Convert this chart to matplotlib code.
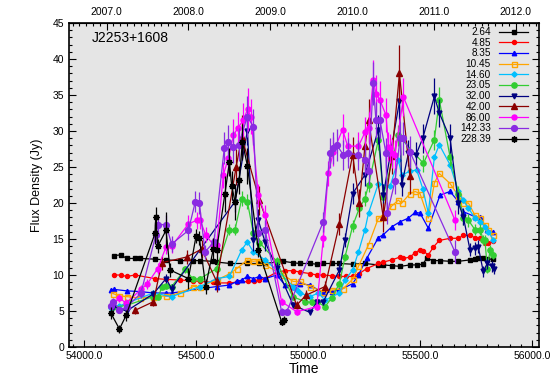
import matplotlib
matplotlib.use("Agg")
import matplotlib.pyplot as plt
from matplotlib.ticker import MultipleLocator, FormatStrFormatter

plt.rcParams["font.family"] = ["Liberation Sans", "DejaVu Sans"]

# 2.64 GHz
mjd_264 = [54135, 54165, 54190, 54228, 54250, 54317, 54366, 54429, 54488, 54518, 54577, 54592,
           54652, 54729, 54783, 54808, 54860, 54890, 54934, 54964, 55009, 55039, 55068, 55105,
           55140, 55199, 55254, 55314, 55336, 55374, 55411, 55455, 55485, 55512, 55530, 55560,
           55589, 55634, 55671, 55723, 55745, 55760, 55782, 55800, 55827]
flux_264 = [12.7, 12.8, 12.3, 12.3, 12.3, 12.2, 12.1, 12.0, 12.0, 12.0, 11.9, 11.8,
            11.6, 11.6, 11.6, 11.6, 11.8, 11.9, 11.7, 11.6, 11.6, 11.5, 11.6, 11.6,
            11.6, 11.5, 11.6, 11.4, 11.4, 11.3, 11.2, 11.4, 11.4, 11.5, 12.3, 12.0,
            12.0, 11.9, 11.9, 12.1, 12.2, 12.3, 12.3, 12.2, 12.2]

# 4.85 GHz
mjd_485 = [54135, 54165, 54190, 54228, 54317, 54366, 54429, 54488, 54518, 54577, 54592, 54649,
           54682, 54734, 54760, 54783, 54808, 54860, 54897, 54934, 54964, 55009, 55039, 55068,
           55105, 55140, 55170, 55199, 55229, 55262, 55314, 55336, 55374, 55411, 55426, 55455,
           55478, 55500, 55515, 55537, 55560, 55586, 55634, 55671, 55692, 55723, 55745, 55768,
           55790, 55804, 55826]
flux_485 = [10.0, 10.0, 9.8, 10.0, 9.5, 9.4, 9.3, 9.2, 9.1, 9.0, 8.9, 8.9,
            9.0, 9.1, 9.2, 9.3, 9.5, 10.4, 10.6, 10.6, 10.4, 10.2, 10.0, 10.0,
            9.9, 9.8, 9.8, 9.8, 10.2, 10.9, 11.6, 11.8, 12.1, 12.5, 12.3, 12.5,
            13.1, 13.5, 13.3, 12.8, 13.9, 14.8, 15.1, 15.1, 15.5, 15.5, 15.2, 15.2,
            14.4, 14.4, 14.7]

# 8.35 GHz
mjd_835 = [54120, 54135, 54190, 54250, 54310, 54366, 54391, 54592, 54649, 54682, 54704, 54729,
           54756, 54783, 54808, 54860, 54897, 54934, 54964, 55009, 55068, 55105, 55140, 55199,
           55225, 55262, 55314, 55336, 55374, 55411, 55448, 55478, 55500, 55537, 55589, 55634,
           55671, 55693, 55745, 55768, 55800, 55827]
flux_835 = [7.9, 8.0, 7.8, 7.7, 7.5, 7.5, 7.5, 8.4, 8.6, 9.1, 9.3, 9.8,
            9.5, 9.8, 9.5, 10.0, 8.6, 8.4, 8.8, 8.6, 7.5, 7.7, 7.9, 8.8,
            10.0, 12.3, 15.2, 15.6, 16.7, 17.4, 17.9, 18.7, 18.6, 16.5, 21.1, 21.6,
            20.2, 18.8, 18.1, 18.0, 16.2, 16.0]

# 10.45 GHz
mjd_1045 = [54131, 54158, 54190, 54250, 54310, 54366, 54429, 54488, 54518, 54592, 54652, 54682,
            54729, 54756, 54783, 54808, 54890, 54934, 54964, 55009, 55068, 55105, 55157, 55202,
            55225, 55270, 55314, 55336, 55374, 55403, 55418, 55455, 55478, 55500, 55537, 55564,
            55586, 55634, 55671, 55693, 55716, 55745, 55768, 55790, 55805, 55827]
flux_1045 = [7.4, 7.1, 7.0, 6.8, 7.0, 7.1, 7.5, 8.4, 8.4, 9.3, 10.2, 10.9,
             12.1, 11.9, 12.0, 11.4, 10.0, 9.1, 9.1, 8.4, 7.7, 7.9, 8.1, 9.5,
             11.2, 14.2, 17.9, 18.1, 19.6, 20.4, 20.0, 21.3, 21.6, 21.3, 17.9, 22.8,
             24.1, 22.7, 21.0, 20.0, 20.0, 18.3, 17.9, 17.0, 16.2, 15.6]

# 14.60 GHz
mjd_1460 = [54120, 54158, 54190, 54310, 54391, 54518, 54592, 54649, 54704, 54729, 54756, 54808,
            54860, 54934, 54949, 54964, 55009, 55046, 55076, 55140, 55165, 55199, 55225, 55254,
            55270, 55314, 55366, 55403, 55418, 55455, 55485, 55512, 55537, 55564, 55586, 55634,
            55671, 55693, 55716, 55745, 55768, 55790, 55805, 55827]
flux_1460 = [5.4, 5.7, 6.1, 7.5, 7.0, 8.4, 9.5, 9.8, 13.5, 14.6, 13.2, 12.1,
             10.7, 8.4, 7.9, 7.5, 7.0, 7.5, 6.5, 7.5, 9.3, 10.7, 13.2, 16.3,
             18.6, 22.7, 22.3, 26.0, 23.9, 24.4, 24.6, 22.0, 18.6, 26.4, 28.1, 25.3,
             21.6, 20.4, 19.3, 17.9, 17.4, 16.7, 16.0, 14.9]

# 23.05 GHz
mjd_2305 = [54130, 54190, 54310, 54332, 54347, 54366, 54391, 54451, 54488, 54518, 54592, 54649,
            54674, 54704, 54729, 54756, 54783, 54860, 54931, 54987, 55016, 55039, 55076, 55105,
            55140, 55165, 55199, 55229, 55254, 55270, 55314, 55336, 55403, 55515, 55564, 55586,
            55634, 55671, 55693, 55716, 55745, 55768, 55782, 55790, 55800, 55813, 55827]
flux_2305 = [5.5, 5.8, 7.0, 7.0, 8.3, 8.5, 8.4, 10.8, 9.4, 9.5, 10.9, 16.3,
             16.3, 20.6, 20.2, 15.8, 14.5, 11.9, 7.0, 6.3, 6.2, 6.3, 5.6, 6.8,
             8.8, 12.5, 16.8, 19.3, 20.6, 22.5, 28.8, 20.9, 29.4, 25.5, 28.8, 34.3,
             26.4, 21.3, 17.9, 17.6, 16.3, 16.3, 14.9, 14.8, 10.9, 13.5, 12.8]
err_2305 = [0.3, 0.3, 0.3, 0.3, 0.3, 0.3, 0.3, 0.5, 0.4, 0.4, 0.5, 0.8,
            0.8, 1.0, 1.0, 0.8, 0.7, 0.6, 0.4, 0.3, 0.3, 0.3, 0.3, 0.3,
            0.4, 0.6, 0.8, 0.9, 1.0, 1.0, 1.5, 1.0, 1.5, 1.2, 1.4, 1.8,
            1.3, 1.0, 0.9, 0.9, 0.8, 0.8, 0.7, 0.7, 0.6, 0.7, 0.6]

# 32.00 GHz
mjd_3200 = [54130, 54190, 54310, 54366, 54391, 54674, 54729, 54756, 54778, 54808, 54860, 54934,
            55009, 55039, 55068, 55140, 55165, 55199, 55254, 55314, 55336, 55408, 55418, 55448,
            55482, 55512, 55564, 55586, 55634, 55671, 55693, 55723, 55745, 55760, 55782, 55800,
            55820, 55830]
flux_3200 = [5.6, 5.0, 7.4, 9.5, 8.1, 20.2, 30.0, 14.9, 17.6, 14.6, 11.0, 5.8,
             4.8, 6.2, 6.3, 10.7, 14.9, 21.3, 23.9, 30.2, 21.1, 34.1, 22.5, 26.9,
             26.7, 29.0, 34.8, 32.5, 29.0, 20.0, 18.1, 13.5, 13.7, 13.9, 10.5, 11.6,
             11.2, 10.9]
err_3200 = [0.4, 0.4, 0.5, 0.6, 0.6, 1.5, 2.0, 1.5, 1.5, 1.2, 0.8, 0.4,
            0.4, 0.4, 0.4, 0.8, 1.0, 1.5, 1.5, 2.0, 1.5, 2.5, 1.5, 1.8,
            1.8, 2.0, 2.5, 2.0, 2.0, 1.5, 1.2, 0.9, 0.9, 0.9, 0.8, 0.8,
            0.8, 0.8]

# 42.00 GHz
mjd_4200 = [54228, 54310, 54347, 54458, 54525, 54592, 54679, 54704, 54783, 54949, 54991, 55076,
            55140, 55199, 55229, 55254, 55270, 55336, 55374, 55408, 55455]
flux_4200 = [5.1, 6.3, 11.7, 12.5, 13.6, 9.1, 25.0, 29.2, 20.4, 5.8, 7.2, 8.4,
             17.1, 26.7, 20.0, 27.9, 31.5, 18.0, 26.5, 38.0, 23.7]
err_4200 = [0.5, 0.6, 1.0, 1.0, 1.2, 1.5, 2.5, 3.0, 2.0, 0.6, 0.7, 0.8,
            1.5, 2.5, 2.0, 2.5, 3.0, 2.0, 2.5, 4.0, 2.5]

# 86.00 GHz
mjd_8600 = [54120, 54158, 54188, 54254, 54283, 54329, 54366, 54391, 54466, 54503, 54518, 54543,
            54577, 54592, 54622, 54644, 54667, 54686, 54711, 54730, 54745, 54778, 54808, 54882,
            54949, 55039, 55068, 55090, 55113, 55154, 55177, 55225, 55254, 55270, 55291, 55303,
            55321, 55348, 55359, 55366, 55374, 55388, 55426, 55656]
flux_8600 = [5.7, 6.8, 6.1, 8.0, 8.8, 10.9, 13.9, 14.0, 17.1, 17.6, 17.6, 15.6,
             14.2, 14.2, 23.9, 26.2, 29.4, 30.4, 31.5, 33.0, 32.0, 21.1, 18.3, 6.3,
             4.9, 5.6, 15.1, 24.1, 27.1, 30.2, 27.9, 27.9, 29.8, 30.4, 37.1, 35.2,
             34.3, 32.2, 27.8, 27.6, 26.9, 26.7, 34.7, 17.6]
err_8600 = [0.4, 0.5, 0.5, 0.6, 0.7, 0.8, 1.0, 1.0, 1.2, 1.2, 1.2, 1.0,
            1.0, 1.0, 1.8, 2.0, 2.2, 2.2, 2.4, 3.0, 2.4, 1.6, 1.4, 0.5,
            0.4, 0.5, 1.2, 1.8, 2.0, 2.2, 2.0, 2.0, 2.2, 2.2, 2.8, 2.6,
            2.6, 2.4, 2.0, 2.0, 2.0, 2.0, 2.6, 1.4]

# 142.33 GHz
mjd_14233 = [54120, 54131, 54158, 54190, 54254, 54321, 54329, 54366, 54391, 54466, 54497, 54515,
             54540, 54580, 54626, 54644, 54667, 54690, 54729, 54756, 54778, 54808, 54882, 54905,
             55068, 55098, 55113, 55128, 55157, 55180, 55225, 55254, 55270, 55291, 55303, 55321,
             55348, 55354, 55388, 55411, 55426, 55455, 55656]
flux_14233 = [5.7, 6.3, 5.2, 5.5, 7.5, 15.6, 17.0, 17.0, 14.3, 16.2, 20.2, 20.0,
              13.2, 14.6, 27.6, 28.5, 27.8, 28.1, 32.0, 30.6, 15.8, 16.3, 4.9, 4.9,
              17.4, 26.9, 27.6, 28.1, 26.7, 26.9, 26.7, 26.0, 24.4, 36.6, 31.5, 31.5,
              26.9, 18.6, 23.0, 29.0, 29.0, 27.1, 13.2]
err_14233 = [0.5, 0.5, 0.5, 0.5, 0.7, 1.2, 1.3, 1.3, 1.1, 1.3, 1.5, 1.5,
             1.0, 1.1, 2.2, 2.3, 2.2, 2.3, 2.8, 2.5, 1.3, 1.3, 0.5, 0.5,
             1.4, 2.1, 2.2, 2.2, 2.1, 2.1, 2.1, 2.1, 1.9, 3.0, 2.5, 2.5,
             2.1, 1.5, 1.8, 2.3, 2.3, 2.2, 1.6]

# 228.39 GHz
mjd_22839 = [54120, 54158, 54188, 54317, 54320, 54329, 54366, 54384, 54466, 54500, 54515, 54543,
             54577, 54592, 54629, 54649, 54659, 54674, 54693, 54707, 54729, 54778, 54882, 54893]
flux_22839 = [4.7, 2.5, 4.4, 15.8, 18.0, 14.0, 16.2, 10.7, 9.5, 15.4, 15.1, 8.4,
              13.6, 13.5, 21.3, 25.7, 22.4, 20.2, 23.2, 28.5, 25.2, 13.5, 3.5, 3.75]
err_22839 = [0.8, 0.6, 0.8, 1.5, 1.5, 1.0, 2.5, 1.0, 1.5, 1.0, 1.0, 1.0,
             1.5, 1.5, 2.5, 2.0, 2.0, 2.5, 2.0, 2.5, 2.5, 1.0, 0.5, 0.5]

series = [
    ("2.64", mjd_264, flux_264, None, "black", "s", 2.9, "black"),
    ("4.85", mjd_485, flux_485, None, "red", "o", 2.9, "red"),
    ("8.35", mjd_835, flux_835, None, "blue", "^", 3.2, "blue"),
    ("10.45", mjd_1045, flux_1045, None, "orange", "s", 3.6, "none"),
    ("14.60", mjd_1460, flux_1460, None, "deepskyblue", "D", 2.7, "deepskyblue"),
    ("23.05", mjd_2305, flux_2305, err_2305, "limegreen", "o", 3.8, "limegreen"),
    ("32.00", mjd_3200, flux_3200, err_3200, "navy", "v", 3.5, "navy"),
    ("42.00", mjd_4200, flux_4200, err_4200, "darkred", "^", 4.0, "darkred"),
    ("86.00", mjd_8600, flux_8600, err_8600, "magenta", "o", 3.6, "magenta"),
    ("142.33", mjd_14233, flux_14233, err_14233, "blueviolet", "o", 4.2, "blueviolet"),
    ("228.39", mjd_22839, flux_22839, err_22839, "black", (8, 2, 0), 4.6, "black"),
]


def mjd_to_year(m):
    return 2007.0 + (m - 54101.0) / 365.25


def year_to_mjd(y):
    return 54101.0 + (y - 2007.0) * 365.25


fig = plt.figure(figsize=(5.5, 3.76), dpi=100)
ax = fig.add_axes([0.1255, 0.0771, 0.8545, 0.8617])
ax.set_facecolor("#e5e5e5")

for label, mjd, flux, err, color, marker, ms, mfc in series:
    if err is not None:
        ax.errorbar(mjd, flux, yerr=err, fmt="none", ecolor=color, elinewidth=0.9, capsize=0)
    ax.plot(mjd, flux, color=color, marker=marker, ms=ms, mfc=mfc, mec=color,
            mew=1.0, lw=0.9, label=label)

ax.set_xlim(53933, 56031)
ax.set_ylim(0, 45)
ax.xaxis.set_major_locator(MultipleLocator(500))
ax.xaxis.set_minor_locator(MultipleLocator(50))
ax.xaxis.set_major_formatter(FormatStrFormatter("%.1f"))
ax.yaxis.set_major_locator(MultipleLocator(5))
ax.yaxis.set_minor_locator(MultipleLocator(1))
ax.tick_params(which="both", direction="in", right=True, labelsize=7.5, width=0.8)
ax.tick_params(axis="x", which="both", top=False, pad=3)
ax.tick_params(which="major", length=5)
ax.tick_params(which="minor", length=2.5)
for s in ax.spines.values():
    s.set_linewidth(1.2)

top = ax.secondary_xaxis("top", functions=(mjd_to_year, year_to_mjd))
top.xaxis.set_major_locator(MultipleLocator(1))
top.xaxis.set_minor_locator(MultipleLocator(1 / 12))
top.xaxis.set_major_formatter(FormatStrFormatter("%.1f"))
top.tick_params(which="both", direction="in", labelsize=7.5, width=0.8, pad=4)
top.tick_params(which="major", length=5)
top.tick_params(which="minor", length=2.5)

ax.set_xlabel("Time", fontsize=10, labelpad=0.5)
ax.set_ylabel("Flux Density (Jy)", fontsize=9, labelpad=7)
ax.text(0.048, 0.954, "J2253+1608", transform=ax.transAxes, fontsize=10, va="center")

ax.legend(loc="upper right", bbox_to_anchor=(528 / 550, 1 - 27 / 376),
          bbox_transform=fig.transFigure, markerfirst=False, frameon=False,
          fontsize=7.2, labelspacing=0.07, handlelength=2.9, handletextpad=0.8,
          borderpad=0, borderaxespad=0)

fig.savefig("out.png", dpi=100)
